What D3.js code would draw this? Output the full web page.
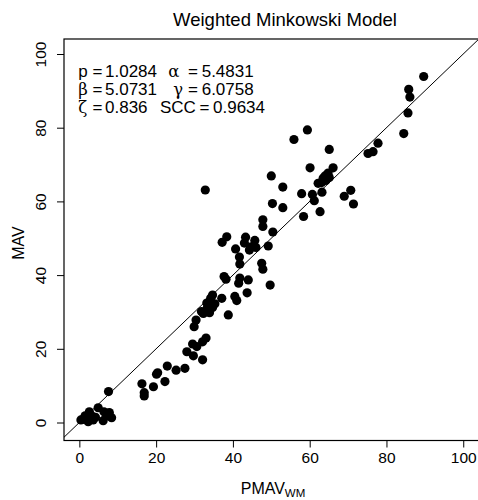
<!DOCTYPE html>
<html>
<head>
<meta charset="utf-8">
<script src="https://cdn.jsdelivr.net/npm/d3@7"></script>
<style>
  html, body { margin: 0; padding: 0; background: #fff; }
  svg { display: block; }
  text { font-family: "Liberation Sans", Arial, Helvetica, sans-serif; fill: #000; }
</style>
</head>
<body>
<svg id="chart" width="478" height="500"></svg>
<script>
// ---- data ----
const pmav = [89.7, 85.8, 86.1, 85.6, 84.5, 77.8, 76.5, 75.2, 59.4, 55.9, 65.1, 60.1, 66.1, 50.0, 64.8, 64.0, 65.1, 63.5, 64.2, 62.2,
  63.1, 53.0, 57.9, 60.7, 63.2, 61.2, 70.7, 69.0, 71.4, 62.7, 58.4, 50.3, 53.0, 47.8, 47.8, 50.4, 49.2, 47.5, 47.8, 49.7,
  32.8, 38.4, 37.2, 43.3, 43.0, 45.7, 44.8, 46.0, 44.3, 40.7, 41.7, 41.8, 37.7, 38.2, 41.8, 41.5, 44.0, 40.5, 41.0, 43.7,
  34.7, 34.2, 37.1, 33.2, 35.3, 33.3, 34.7, 31.8, 32.3, 33.9, 38.8, 30.4, 29.9, 33.0, 32.1, 29.5, 30.6, 28.0, 29.7, 32.1,
  27.5, 25.2, 22.9, 20.4, 20.1, 22.3, 19.3, 16.3, 16.9, 16.9, 7.6, 4.9, 2.6, 1.0, 2.3, 3.6, 3.2, 6.4, 7.8, 8.4,
  6.2, 7.1, 1.5, 0.4, 4.2];
const mav = [93.9, 90.4, 88.3, 84.0, 78.4, 75.8, 73.5, 73.0, 79.4, 76.8, 74.1, 69.1, 69.1, 66.9, 67.7, 66.9, 66.5, 66.3, 65.7, 64.9,
  65.1, 63.9, 62.1, 61.9, 62.5, 60.2, 63.0, 61.4, 59.3, 57.2, 55.9, 59.4, 58.3, 55.0, 53.2, 51.7, 47.9, 43.2, 41.6, 37.3,
  63.1, 50.4, 48.9, 50.3, 48.7, 49.4, 47.7, 47.5, 46.8, 47.1, 44.9, 43.0, 39.6, 38.9, 39.2, 37.8, 38.7, 34.2, 33.1, 35.2,
  34.6, 33.7, 33.7, 32.4, 32.2, 31.0, 31.2, 30.1, 29.6, 29.8, 29.2, 27.8, 26.0, 22.9, 21.9, 21.3, 20.6, 19.2, 18.1, 17.0,
  14.7, 14.2, 15.3, 13.5, 13.1, 11.1, 9.7, 10.5, 8.1, 7.2, 8.4, 4.0, 2.9, 0.9, 0.2, 0.7, 1.8, 2.9, 2.7, 1.3,
  0.5, 1.8, 1.8, 0.7, 1.4];
const xTicks = [0, 20, 40, 60, 80, 100];
const yTicks = [0, 20, 40, 60, 80, 100];
const paramNames = ["p", "\u03b1", "\u03b2", "\u03b3", "\u03b6", "SCC"];
const paramValues = ["1.0284", "5.4831", "5.0731", "6.0758", "0.836", "0.9634"];
const titleText = "Weighted Minkowski Model";
const xLabel = "PMAV";
const xLabelSub = "WM";
const yLabel = "MAV";

// ---- layout ----
const frame = { left: 64, right: 478.6, top: 39, bottom: 440.5 };
const svg = d3.select("#chart");
const x = d3.scaleLinear().domain([-4, 104]).range([frame.left, frame.right]);
const y = d3.scaleLinear().domain([0, 100]).range([422.5, 54]);

// clip
svg.append("defs").append("clipPath").attr("id", "clip")
  .append("rect").attr("x", frame.left).attr("y", frame.top)
  .attr("width", frame.right - frame.left).attr("height", frame.bottom - frame.top);

// title
svg.append("text").attr("x", 285).attr("y", 26).attr("text-anchor", "middle")
  .style("font-size", "18.5px").text(titleText);

// x axis
const xAxis = d3.axisBottom(x).tickValues(xTicks).tickSize(7).tickPadding(4).tickFormat(d3.format("d"));
const gx = svg.append("g").attr("transform", `translate(0,${frame.bottom})`).call(xAxis);
gx.select(".domain").remove();
gx.selectAll("line").attr("stroke", "#000").attr("stroke-width", 1);
gx.selectAll("text").style("font-size", "15.5px").style("font-family", "Liberation Sans, Arial, sans-serif").attr("fill", "#000");

// y axis
const yAxis = d3.axisLeft(y).tickValues(yTicks).tickSize(7).tickPadding(4).tickFormat(d3.format("d"));
const gy = svg.append("g").attr("transform", `translate(${frame.left},0)`).call(yAxis);
gy.select(".domain").remove();
gy.selectAll("line").attr("stroke", "#000").attr("stroke-width", 1);
gy.selectAll("text")
  .style("font-size", "15.5px").style("font-family", "Liberation Sans, Arial, sans-serif").attr("fill", "#000")
  .attr("x", null).attr("dy", null).attr("y", null)
  .attr("text-anchor", "middle")
  .attr("transform", "translate(-18.5,0) rotate(-90)");

// frame
svg.append("rect").attr("x", frame.left).attr("y", frame.top)
  .attr("width", frame.right - frame.left).attr("height", frame.bottom - frame.top)
  .attr("fill", "none").attr("stroke", "#000").attr("stroke-width", 1.2);

// diagonal y = x
svg.append("line").attr("clip-path", "url(#clip)")
  .attr("x1", x(-10)).attr("y1", y(-10)).attr("x2", x(110)).attr("y2", y(110))
  .attr("stroke", "#000").attr("stroke-width", 1);

// points
svg.append("g").selectAll("circle").data(pmav.map((v, i) => [v, mav[i]]))
  .join("circle")
  .attr("cx", d => x(d[0])).attr("cy", d => y(d[1])).attr("r", 4.6)
  .attr("fill", "#000");

// annotation
const rows = [
  { name: 0, nx: 78.3, eq: 97.5, vx: 105, by: 76.5 },
  { name: 1, nx: 168.3, eq: 193, vx: 201.7, by: 76.5 },
  { name: 2, nx: 78.3, eq: 97.5, vx: 105, by: 94.5 },
  { name: 3, nx: 173.3, eq: 193, vx: 201.7, by: 94.5 },
  { name: 4, nx: 78.3, eq: 97.5, vx: 105, by: 112.8 },
  { name: 5, nx: 160, eq: 204.5, vx: 213, by: 112.8 }
];
const ann = svg.append("g");
rows.forEach(r => {
  const nm = paramNames[r.name];
  const isGreek = /[\u0370-\u03ff]/.test(nm);
  ann.append("text").attr("x", r.nx).attr("y", r.by)
    .style("font-size", isGreek ? "16.5px" : "17px")
    .style("font-family", isGreek ? "DejaVu Serif, Liberation Serif, serif" : "Liberation Sans, Arial, sans-serif")
    .text(nm);
  ann.append("text").attr("x", r.eq).attr("y", r.by).attr("text-anchor", "middle")
    .style("font-size", "17px").text("=");
  ann.append("text").attr("x", r.vx).attr("y", r.by)
    .style("font-size", "17px").text(paramValues[r.name]);
});

// axis labels
const xl = svg.append("text").attr("x", 273).attr("y", 494).attr("text-anchor", "middle").style("font-size", "16px");
xl.append("tspan").text(xLabel);
xl.append("tspan").attr("dy", 3).style("font-size", "11.5px").text(xLabelSub);

svg.append("text").attr("transform", `translate(24,243) rotate(-90)`).attr("text-anchor", "middle")
  .style("font-size", "16px").text(yLabel);
</script>
</body>
</html>
